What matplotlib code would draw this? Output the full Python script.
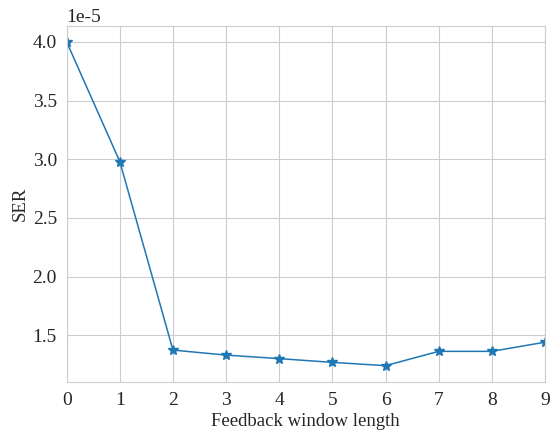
import matplotlib
matplotlib.use("Agg")
import matplotlib.pyplot as plt
import seaborn as sns

# SER versus feedback window length
window_len = [0, 1, 2, 3, 4, 5, 6, 7, 8, 9]
ser = [4.00e-5, 2.98e-5, 1.373e-5, 1.33e-5, 1.30e-5, 1.268e-5, 1.24e-5, 1.362e-5, 1.362e-5, 1.44e-5]

sns.set_style("whitegrid")
plt.rcParams['font.family'] = ['Liberation Serif', 'DejaVu Serif']
plt.rcParams['axes.unicode_minus'] = False

fig = plt.figure(figsize=(5.51, 4.3), dpi=100)
ax = fig.add_axes([0.121, 0.112, 0.868, 0.828])
ax.plot(window_len, ser, marker="*", color="#1f77b4", linewidth=1.1, markersize=7)
ax.set_xlim(0, 9)
ax.set_xticks(window_len)
ax.set_xlabel("Feedback window length", fontsize=13.5, labelpad=3)
ax.set_ylabel("SER", fontsize=13.5, labelpad=3)
ax.tick_params(labelsize=14)
ax.yaxis.get_offset_text().set_fontsize(14)

fig.savefig("out.png", dpi=100)
